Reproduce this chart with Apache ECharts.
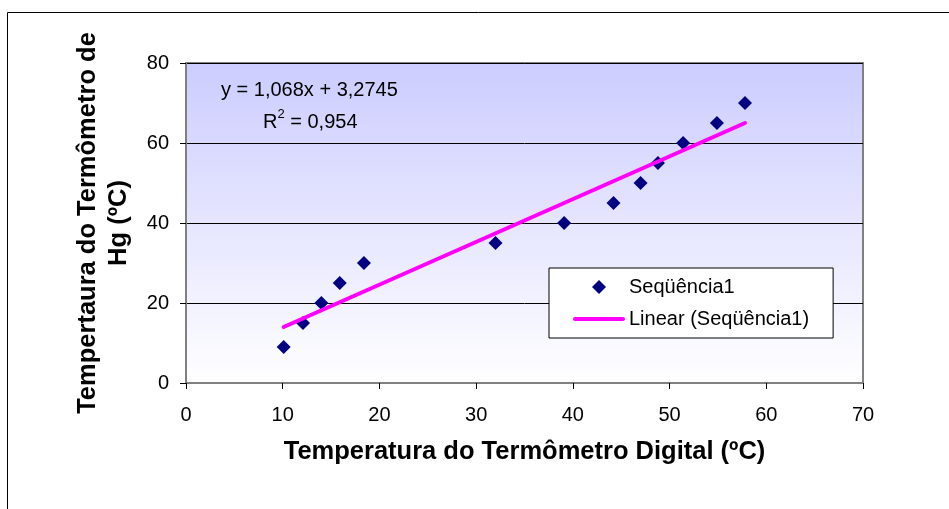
<!DOCTYPE html>
<html>
<head>
<meta charset="utf-8">
<script src="https://cdn.jsdelivr.net/npm/echarts@6/dist/echarts.min.js"></script>
<style>
html,body{margin:0;padding:0;background:#fff;}
#chart{width:949px;height:509px;}
</style>
</head>
<body>
<div id="chart"></div>
<script>
// Data
const digitalTemp = [10.1, 12.1, 14.0, 15.9, 18.4, 32.0, 39.1, 44.2, 47.0, 48.8, 51.4, 54.9, 57.8];
const mercuryTemp = [9, 15, 20, 25, 30, 35, 40, 45, 50, 55, 60, 65, 70];
// Trend line end points (as drawn in the picture)
const trendX = [10.1, 57.8];
const trendY = [14.0, 65.0];
const xTicks = {min: 0, max: 70, interval: 10};
const yTicks = {min: 0, max: 80, interval: 20};
const seriesName = 'Seqüência1';
const trendName = 'Linear (Seqüência1)';
const eqLine1 = 'y = 1,068x + 3,2745';
const eqLine2 = '0,954';
const xTitle = 'Temperatura do Termômetro Digital (ºC)';
const yTitle = 'Tempertaura do Termômetro de\nHg (ºC)';

const FONT = '"Liberation Sans", Arial, sans-serif';
const chart = echarts.init(document.getElementById('chart'), null, {renderer: 'canvas'});

// legend icons: invisible move-to points widen the bounding box so the shapes keep their size
const diamondIcon = 'path://M0 0 M52 14 M26 0 L33 7 L26 14 L19 7 Z';
const lineIcon = 'path://M0 0 M52 14 M2 5 L50 5 A2 2 0 0 1 50 9 L2 9 A2 2 0 0 1 2 5 Z';

const option = {
  animation: false,
  backgroundColor: '#fff',
  textStyle: {fontFamily: FONT},
  grid: {
    left: 186, top: 63, right: 86, bottom: 126,
    show: true,
    borderColor: '#808080',
    borderWidth: 2,
    backgroundColor: {
      type: 'linear', x: 0, y: 0, x2: 0, y2: 1,
      colorStops: [{offset: 0, color: '#ccccff'}, {offset: 1, color: '#ffffff'}]
    }
  },
  xAxis: {
    type: 'value',
    min: xTicks.min, max: xTicks.max, interval: xTicks.interval,
    name: xTitle,
    nameLocation: 'middle',
    nameGap: 56,
    nameTextStyle: {fontFamily: FONT, fontSize: 25.5, fontWeight: 'bold', color: '#000'},
    axisLine: {show: true, lineStyle: {color: '#808080', width: 2}},
    axisTick: {show: true, inside: false, length: 6, lineStyle: {color: '#000', width: 1}},
    axisLabel: {fontFamily: FONT, fontSize: 20, color: '#000', margin: 22},
    splitLine: {show: false}
  },
  yAxis: {
    type: 'value',
    min: yTicks.min, max: yTicks.max, interval: yTicks.interval,
    name: yTitle,
    nameLocation: 'middle',
    nameRotate: 90,
    nameGap: 52,
    nameTextStyle: {fontFamily: FONT, fontSize: 25.5, fontWeight: 'bold', color: '#000', lineHeight: 31, align: 'center'},
    axisLine: {show: true, lineStyle: {color: '#808080', width: 2}},
    axisTick: {show: true, inside: false, length: 6, lineStyle: {color: '#000', width: 1}},
    axisLabel: {fontFamily: FONT, fontSize: 20, color: '#000', margin: 17},
    splitLine: {show: true, lineStyle: {color: '#000', width: 1}}
  },
  legend: {
    orient: 'vertical',
    left: 549, top: 268,
    padding: [9, 24, 9, 24],
    itemGap: 12,
    itemWidth: 52,
    itemHeight: 14,
    backgroundColor: '#fff',
    borderColor: '#000',
    borderWidth: 1,
    borderRadius: 0,
    textStyle: {fontFamily: FONT, fontSize: 20, color: '#000', padding: [0, 0, 0, -1]},
    data: [
      {name: seriesName, icon: diamondIcon, itemStyle: {color: '#000080', opacity: 1}},
      {name: trendName, icon: lineIcon, itemStyle: {color: '#ff00ff', opacity: 1}}
    ]
  },
  graphic: [
    {
      type: 'rect', silent: true, z: -1,
      shape: {x: 7.5, y: 12.5, width: 1000, height: 600},
      style: {fill: 'none', stroke: '#000', lineWidth: 1}
    },
    {
      type: 'text', left: 221, top: 80, z: 10,
      style: {text: eqLine1, font: '20px ' + FONT, fill: '#000'}
    },
    {
      type: 'text', left: 263, top: 108, z: 10,
      style: {
        text: '{r|R}{s|2}{r| = ' + eqLine2 + '}',
        fill: '#000',
        rich: {
          r: {fontFamily: FONT, fontSize: 20, verticalAlign: 'bottom', lineHeight: 24},
          s: {fontFamily: FONT, fontSize: 13, verticalAlign: 'top', lineHeight: 24, padding: [0, 0, 10, 0]}
        }
      }
    }
  ],
  series: [
    {
      name: seriesName,
      type: 'scatter',
      symbol: 'diamond',
      symbolSize: 14,
      itemStyle: {color: '#000080', opacity: 1},
      data: digitalTemp.map((x, i) => [x, mercuryTemp[i]]),
      z: 3
    },
    {
      name: trendName,
      type: 'line',
      showSymbol: false,
      symbol: 'none',
      lineStyle: {color: '#ff00ff', width: 4, cap: 'round'},
      itemStyle: {color: '#ff00ff'},
      data: trendX.map((x, i) => [x, trendY[i]]),
      z: 4
    }
  ]
};
chart.setOption(option);
</script>
</body>
</html>
